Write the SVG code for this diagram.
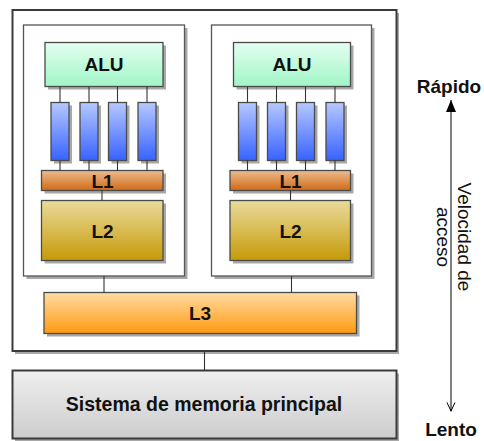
<svg xmlns="http://www.w3.org/2000/svg" width="484" height="441" viewBox="0 0 484 441">
  <defs>
    <linearGradient id="gAlu" x1="0" y1="0" x2="0" y2="1">
      <stop offset="0" stop-color="#e4fff1"/>
      <stop offset="1" stop-color="#a0f5c6"/>
    </linearGradient>
    <linearGradient id="gReg" x1="0" y1="0" x2="0" y2="1">
      <stop offset="0" stop-color="#b6c8ff"/>
      <stop offset="1" stop-color="#3762ff"/>
    </linearGradient>
    <linearGradient id="gL1" x1="0" y1="0" x2="0" y2="1">
      <stop offset="0" stop-color="#ecbc90"/>
      <stop offset="1" stop-color="#d06a14"/>
    </linearGradient>
    <linearGradient id="gL2" x1="0" y1="0" x2="0" y2="1">
      <stop offset="0" stop-color="#eadb9c"/>
      <stop offset="1" stop-color="#c69a06"/>
    </linearGradient>
    <linearGradient id="gL3" x1="0" y1="0" x2="0" y2="1">
      <stop offset="0" stop-color="#ffdca4"/>
      <stop offset="1" stop-color="#ff9a10"/>
    </linearGradient>
    <linearGradient id="gMem" x1="0" y1="0" x2="0" y2="1">
      <stop offset="0" stop-color="#eeeeee"/>
      <stop offset="1" stop-color="#cdcdcd"/>
    </linearGradient>
    <!-- filled head pointing up, open head pointing down -->
    <marker id="headUp" viewBox="0 0 10 12" refX="5" refY="0" markerWidth="10" markerHeight="12" markerUnits="userSpaceOnUse">
      <path d="M0,12 L5,0 L10,12 Z" fill="#000"/>
    </marker>
    <marker id="headDown" viewBox="0 0 10 10" refX="5" refY="10" markerWidth="10" markerHeight="10" markerUnits="userSpaceOnUse">
      <path d="M1,1 L5,9.5 L9,1" fill="none" stroke="#000" stroke-width="1"/>
    </marker>
  </defs>
  <style>
    .shadow { fill: #a8a8a8; }
    .box { stroke: #4a4a4a; stroke-width: 1.3; }
    .frame { stroke: #3a3a3a; stroke-width: 2; }
    .core { fill: #ffffff; stroke: #555555; stroke-width: 1.3; }
    .lbl { font-family: "Liberation Sans", Arial, sans-serif; font-weight: bold; font-size: 19px; fill: #111111; text-anchor: middle; }
    .side { font-family: "Liberation Sans", Arial, sans-serif; font-size: 19px; fill: #111111; text-anchor: middle; }
    .wire { stroke: #333333; stroke-width: 1.1; fill: none; }
  </style>

  <rect width="484" height="441" fill="#ffffff"/>

  <!-- processor package -->
  <g id="processor">
    <rect class="shadow" x="15" y="13" width="384" height="341"/>
    <rect class="frame" x="12.5" y="10" width="384" height="341" fill="#ffffff"/>
  </g>

  <!-- core 1 -->
  <g id="core1">
    <rect class="shadow" x="26.5" y="28" width="161" height="251"/>
    <rect class="core" x="23.5" y="25" width="161" height="251"/>
  </g>
  <g id="alu1">
    <rect class="shadow" x="48" y="45.5" width="118" height="44"/>
    <rect class="box" x="45" y="42.5" width="118" height="44" fill="url(#gAlu)"/>
    <text class="lbl" x="104" y="71">ALU</text>
  </g>
  <g id="reg1a"><rect class="shadow" x="54" y="105.5" width="18" height="58"/><rect class="box" x="51" y="102.5" width="18" height="58" fill="url(#gReg)"/></g>
  <g id="reg1b"><rect class="shadow" x="83" y="105.5" width="18" height="58"/><rect class="box" x="80" y="102.5" width="18" height="58" fill="url(#gReg)"/></g>
  <g id="reg1c"><rect class="shadow" x="111.5" y="105.5" width="18" height="58"/><rect class="box" x="108.5" y="102.5" width="18" height="58" fill="url(#gReg)"/></g>
  <g id="reg1d"><rect class="shadow" x="141" y="105.5" width="18" height="58"/><rect class="box" x="138" y="102.5" width="18" height="58" fill="url(#gReg)"/></g>
  <g id="l1a">
    <rect class="shadow" x="44.5" y="173.5" width="121.5" height="20"/>
    <rect class="box" x="41.5" y="170.5" width="121.5" height="20" fill="url(#gL1)"/>
    <text class="lbl" x="102.5" y="187.5">L1</text>
  </g>
  <g id="l2a">
    <rect class="shadow" x="44.5" y="203.5" width="121.5" height="60"/>
    <rect class="box" x="41.5" y="200.5" width="121.5" height="60" fill="url(#gL2)"/>
    <text class="lbl" x="102.5" y="238">L2</text>
  </g>

  <!-- core 2 -->
  <g id="core2">
    <rect class="shadow" x="214.5" y="28" width="160" height="251"/>
    <rect class="core" x="211.5" y="25" width="160" height="251"/>
  </g>
  <g id="alu2">
    <rect class="shadow" x="236.5" y="45.5" width="117" height="44"/>
    <rect class="box" x="233.5" y="42.5" width="117" height="44" fill="url(#gAlu)"/>
    <text class="lbl" x="292" y="71">ALU</text>
  </g>
  <g id="reg2a"><rect class="shadow" x="241.5" y="105.5" width="18" height="58"/><rect class="box" x="238.5" y="102.5" width="18" height="58" fill="url(#gReg)"/></g>
  <g id="reg2b"><rect class="shadow" x="270.5" y="105.5" width="18" height="58"/><rect class="box" x="267.5" y="102.5" width="18" height="58" fill="url(#gReg)"/></g>
  <g id="reg2c"><rect class="shadow" x="299.5" y="105.5" width="18" height="58"/><rect class="box" x="296.5" y="102.5" width="18" height="58" fill="url(#gReg)"/></g>
  <g id="reg2d"><rect class="shadow" x="329" y="105.5" width="18" height="58"/><rect class="box" x="326" y="102.5" width="18" height="58" fill="url(#gReg)"/></g>
  <g id="l1b">
    <rect class="shadow" x="233" y="173.5" width="120.5" height="20"/>
    <rect class="box" x="230" y="170.5" width="120.5" height="20" fill="url(#gL1)"/>
    <text class="lbl" x="290.5" y="187.5">L1</text>
  </g>
  <g id="l2b">
    <rect class="shadow" x="233" y="203.5" width="120.5" height="60"/>
    <rect class="box" x="230" y="200.5" width="120.5" height="60" fill="url(#gL2)"/>
    <text class="lbl" x="290.5" y="238">L2</text>
  </g>

  <!-- shared L3 -->
  <g id="l3">
    <rect class="shadow" x="47" y="295.5" width="312.5" height="41"/>
    <rect class="box" x="44" y="292.5" width="312.5" height="41" fill="url(#gL3)"/>
    <text class="lbl" x="200" y="320">L3</text>
  </g>

  <!-- main memory -->
  <g id="memory">
    <rect class="shadow" x="15" y="373.5" width="384" height="68"/>
    <rect class="frame" x="12.5" y="370.5" width="384" height="68" fill="url(#gMem)"/>
    <text class="lbl" x="204" y="411" style="font-size:19.5px">Sistema de memoria principal</text>
  </g>

  <!-- links between blocks -->
  <g id="connectors">
    <path class="wire" d="M60,86.5V102.5 M89,86.5V102.5 M117.5,86.5V102.5 M147,86.5V102.5"/>
    <path class="wire" d="M60,160.5V170.5 M89,160.5V170.5 M117.5,160.5V170.5 M147,160.5V170.5"/>
    <path class="wire" d="M247.5,86.5V102.5 M276.5,86.5V102.5 M305.5,86.5V102.5 M335,86.5V102.5"/>
    <path class="wire" d="M247.5,160.5V170.5 M276.5,160.5V170.5 M305.5,160.5V170.5 M335,160.5V170.5"/>
    <path class="wire" d="M102,190.5V200.5 M290.5,190.5V200.5"/>
    <path class="wire" d="M104,276V292.5 M291.5,276V292.5"/>
    <path class="wire" d="M204.5,352V370.5"/>
  </g>

  <!-- access speed scale -->
  <g id="speed-scale">
    <line x1="451" y1="411.5" x2="451" y2="100" stroke="#000" stroke-width="1" marker-end="url(#headUp)" marker-start="url(#headDown)"/>
    <text class="lbl" x="449" y="93">Rápido</text>
    <text class="lbl" x="451" y="436">Lento</text>
    <text class="side" transform="translate(458,237) rotate(90)">Velocidad de</text>
    <text class="side" transform="translate(437,237) rotate(90)">acceso</text>
  </g>
</svg>
